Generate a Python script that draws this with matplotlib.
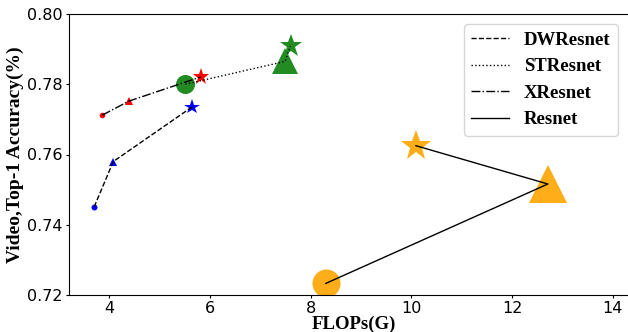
import matplotlib
matplotlib.use("Agg")
import matplotlib.pyplot as plt

# (circle, triangle, star) per model family
dw_flops = [3.70, 4.08, 5.64]
dw_acc = [0.7451, 0.7580, 0.7735]
st_flops = [5.51, 7.49, 7.60]
st_acc = [0.7800, 0.7865, 0.7909]
x_flops = [3.86, 4.39, 5.82]
x_acc = [0.7712, 0.7752, 0.7821]
res_flops = [8.30, 12.71, 10.09]
res_acc = [0.7233, 0.7516, 0.7625]

markers = ["o", "^", "*"]

series = [
    # label, flops, acc, color, linestyle, marker sizes
    ("DWResnet", dw_flops, dw_acc, "blue", "--", [4.3, 5.8, 11.4]),
    ("STResnet", st_flops, st_acc, "forestgreen", ":", [13.7, 19.0, 17.4]),
    ("XResnet", x_flops, x_acc, "red", "-.", [4.0, 5.8, 12.6]),
    ("Resnet", res_flops, res_acc, "orange", "-", [20.2, 27.7, 23.2]),
]

serif = ["Liberation Serif", "DejaVu Serif"]

fig = plt.figure(figsize=(6.28, 3.32), dpi=100)
ax = fig.add_axes([69 / 628, 37 / 332, 569 / 628, 281 / 332])

for label, fx, acc, color, ls, sizes in series:
    for xi, yi, m, ms in zip(fx, acc, markers, sizes):
        ax.plot(xi, yi, marker=m, markersize=ms, color=color,
                markeredgewidth=0, alpha=0.9 if color == "orange" else 1.0,
                zorder=2)
    ax.plot(fx, acc, linestyle=ls, color="black", lw=1.0, label=label,
            zorder=3)

ax.set_xlim(3.2, 14.5)
ax.set_ylim(0.72, 0.80)
ax.set_xticks([4, 6, 8, 10, 12, 14])
ax.set_yticks([0.72, 0.74, 0.76, 0.78, 0.80])
ax.set_yticklabels(["0.72", "0.74", "0.76", "0.78", "0.80"])
ax.tick_params(labelsize=11.5, length=2, pad=2.5)

ax.set_xlabel("FLOPs(G)", family=serif, fontweight="bold", fontsize=13.5,
              labelpad=-0.5)
ax.set_ylabel("Video,Top-1 Accuracy(%)", family=serif, fontweight="bold",
              fontsize=14, labelpad=2)

ax.legend(loc="upper right", bbox_to_anchor=(618 / 628, 1 - 24 / 332),
          bbox_transform=fig.transFigure, borderaxespad=0,
          handlelength=2.0, prop={"family": serif, "weight": "bold",
                                  "size": 13.5})

fig.savefig("out.png", dpi=100, facecolor="white")
